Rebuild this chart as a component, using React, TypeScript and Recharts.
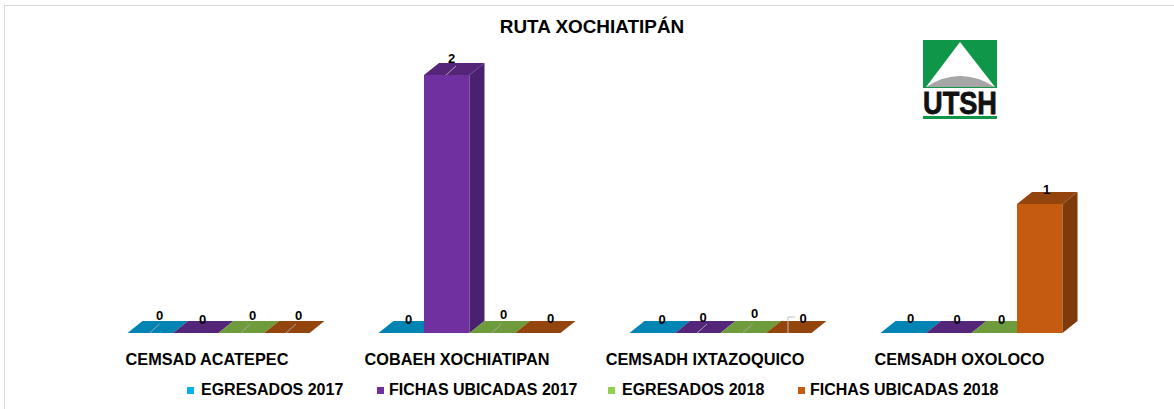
import { BarChart, Bar, XAxis, YAxis, Legend, LabelList } from 'recharts';

const categories = ['CEMSAD ACATEPEC', 'COBAEH XOCHIATIPAN', 'CEMSADH IXTAZOQUICO', 'CEMSADH OXOLOCO'];
const egresados2017 = [0, 0, 0, 0];
const fichas2017 = [0, 2, 0, 0];
const egresados2018 = [0, 0, 0, 0];
const fichas2018 = [0, 0, 0, 1];

const rows = categories.map((name, i) => ({
  name,
  egresados2017: egresados2017[i],
  fichas2017: fichas2017[i],
  egresados2018: egresados2018[i],
  fichas2018: fichas2018[i],
}));

const FONT = '"Liberation Sans", Arial, sans-serif';
const DX = 15;
const DY = 12;

const series = [
  { key: 'egresados2017', name: 'EGRESADOS 2017', front: '#00B0F0', top: '#0084B4', side: '#00698F', labelX: [32, 30, 32.5, 30], labelDy: [-18, -14, -14, -15], leader: [true, false, false, false] },
  { key: 'fichas2017', name: 'FICHAS UBICADAS 2017', front: '#7030A0', top: '#552579', side: '#4A2070', labelX: [29.5, 27.5, 28.2, 31.2], labelDy: [-14, -17, -16, -14], leader: [false, true, true, false] },
  { key: 'egresados2018', name: 'EGRESADOS 2018', front: '#92D050', top: '#6E9C3C', side: '#587D30', labelX: [34, 34, 34, 30], labelDy: [-18, -19, -20, -14], leader: [true, true, true, false] },
  { key: 'fichas2018', name: 'FICHAS UBICADAS 2018', front: '#C55A11', top: '#94440D', side: '#7F3A0B', labelX: [34.5, 35.5, 37.2, 29.5], labelDy: [-18, -15, -15, -15], leader: [true, false, false, false] },
];

const tickNudge = [-11, -12, -15, -11.5];
const legendLeft = [187, 377, 608, 798];

function Box3D({ x, y, width, height, front, top, side }: any) {
  const bottom = y + height;
  return (
    <g>
      {height > 0 && <rect x={x} y={y} width={width} height={height} fill={front} />}
      {height > 0 && (
        <polygon
          points={`${x + width},${y} ${x + width + DX},${y - DY} ${x + width + DX},${bottom - DY} ${x + width},${bottom}`}
          fill={side}
        />
      )}
      <polygon
        points={`${x},${y} ${x + DX},${y - DY} ${x + width + DX},${y - DY} ${x + width},${y}`}
        fill={top}
      />
    </g>
  );
}

function makeLabel(s: (typeof series)[number]) {
  return function ValueLabel({ x, y, value, index }: any) {
    const lx = x + s.labelX[index];
    const ly = y + s.labelDy[index];
    const elbow = s.key === 'fichas2018' && index === 2;
    return (
      <g>
        {s.leader[index] && !elbow && (
          <line x1={x + 22} y1={y} x2={x + 32} y2={y - 9} stroke="#A6A6A6" strokeWidth={1} />
        )}
        {elbow && (
          <polyline points={`${x + 22},${y} ${x + 22},${y - 16} ${x + 29},${y - 16}`} fill="none" stroke="#BFBFBF" strokeWidth={1} />
        )}
        <text x={lx} y={ly} textAnchor="middle" dominantBaseline="central" fontFamily={FONT} fontWeight="bold" fontSize={13} fill="#000">
          {value}
        </text>
      </g>
    );
  };
}

function CategoryTick({ x, y, payload, index }: any) {
  return (
    <text x={x + tickNudge[index]} y={y + 24} textAnchor="middle" fontFamily={FONT} fontWeight="bold" fontSize={16.3} fill="#000">
      {payload.value}
    </text>
  );
}

function LegendRow({ payload }: any) {
  return (
    <div style={{ position: 'relative', height: 20, width: 1174 }}>
      {(payload || []).map((item: any, i: number) => (
        <div key={item.value} style={{ position: 'absolute', left: legendLeft[i], top: 0, display: 'flex', alignItems: 'center', whiteSpace: 'nowrap', fontFamily: FONT, fontWeight: 'bold', fontSize: 16, color: '#000' }}>
          <span style={{ width: 7, height: 7, background: item.color, marginRight: i % 2 ? 5 : 7, display: 'inline-block' }} />
          {item.value}
        </div>
      ))}
    </div>
  );
}

function Logo() {
  return (
    <g>
      <rect x={923} y={40} width={74} height={48} fill="#0F9648" />
      <polygon points="960,42 926,87 995,87" fill="#FFFFFF" />
      <path d="M926,87 Q960,65 995,87 Z" fill="#A6A6A6" />
      <text x={960} y={114} textAnchor="middle" fontFamily={FONT} fontWeight="bold" fontSize={32} textLength={74} lengthAdjust="spacingAndGlyphs" fill="#111" stroke="#111" strokeWidth={0.8}>UTSH</text>
      <rect x={923} y={116} width={74} height={3} fill="#0F9648" />
    </g>
  );
}

export default function App() {
  return (
    <div style={{ position: 'absolute', left: 0, top: 0, width: 1174, height: 409, background: '#fff', overflow: 'hidden' }}>
      <div style={{ position: 'absolute', left: 4, top: 5, right: 0, bottom: 0, borderTop: '1px solid #D9D9D9', borderLeft: '1px solid #D9D9D9' }} />
      <BarChart width={1174} height={409} data={rows} barGap={0} margin={{ top: 75, right: 77.5, bottom: 26, left: 92.5 }} style={{ position: 'absolute' }}>
        <XAxis dataKey="name" axisLine={false} tickLine={false} interval={0} height={30} tick={<CategoryTick />} />
        <YAxis hide domain={[0, 2]} />
        <Legend verticalAlign="bottom" itemSorter={null} content={<LegendRow />} wrapperStyle={{ left: 0, bottom: 'auto', top: 381, width: 1174 }} />
        {series.map((s) => (
          <Bar
            key={s.key}
            dataKey={s.key}
            name={s.name}
            fill={s.front}
            barSize={45.5}
            isAnimationActive={false}
            shape={(p: any) => <Box3D {...p} front={s.front} top={s.top} side={s.side} />}
          >
            <LabelList dataKey={s.key} content={makeLabel(s)} />
          </Bar>
        ))}
        <text x={592} y={33} textAnchor="middle" fontFamily={FONT} fontWeight="bold" fontSize={18.9} fill="#000">RUTA XOCHIATIPÁN</text>
        <Logo />
      </BarChart>
    </div>
  );
}
